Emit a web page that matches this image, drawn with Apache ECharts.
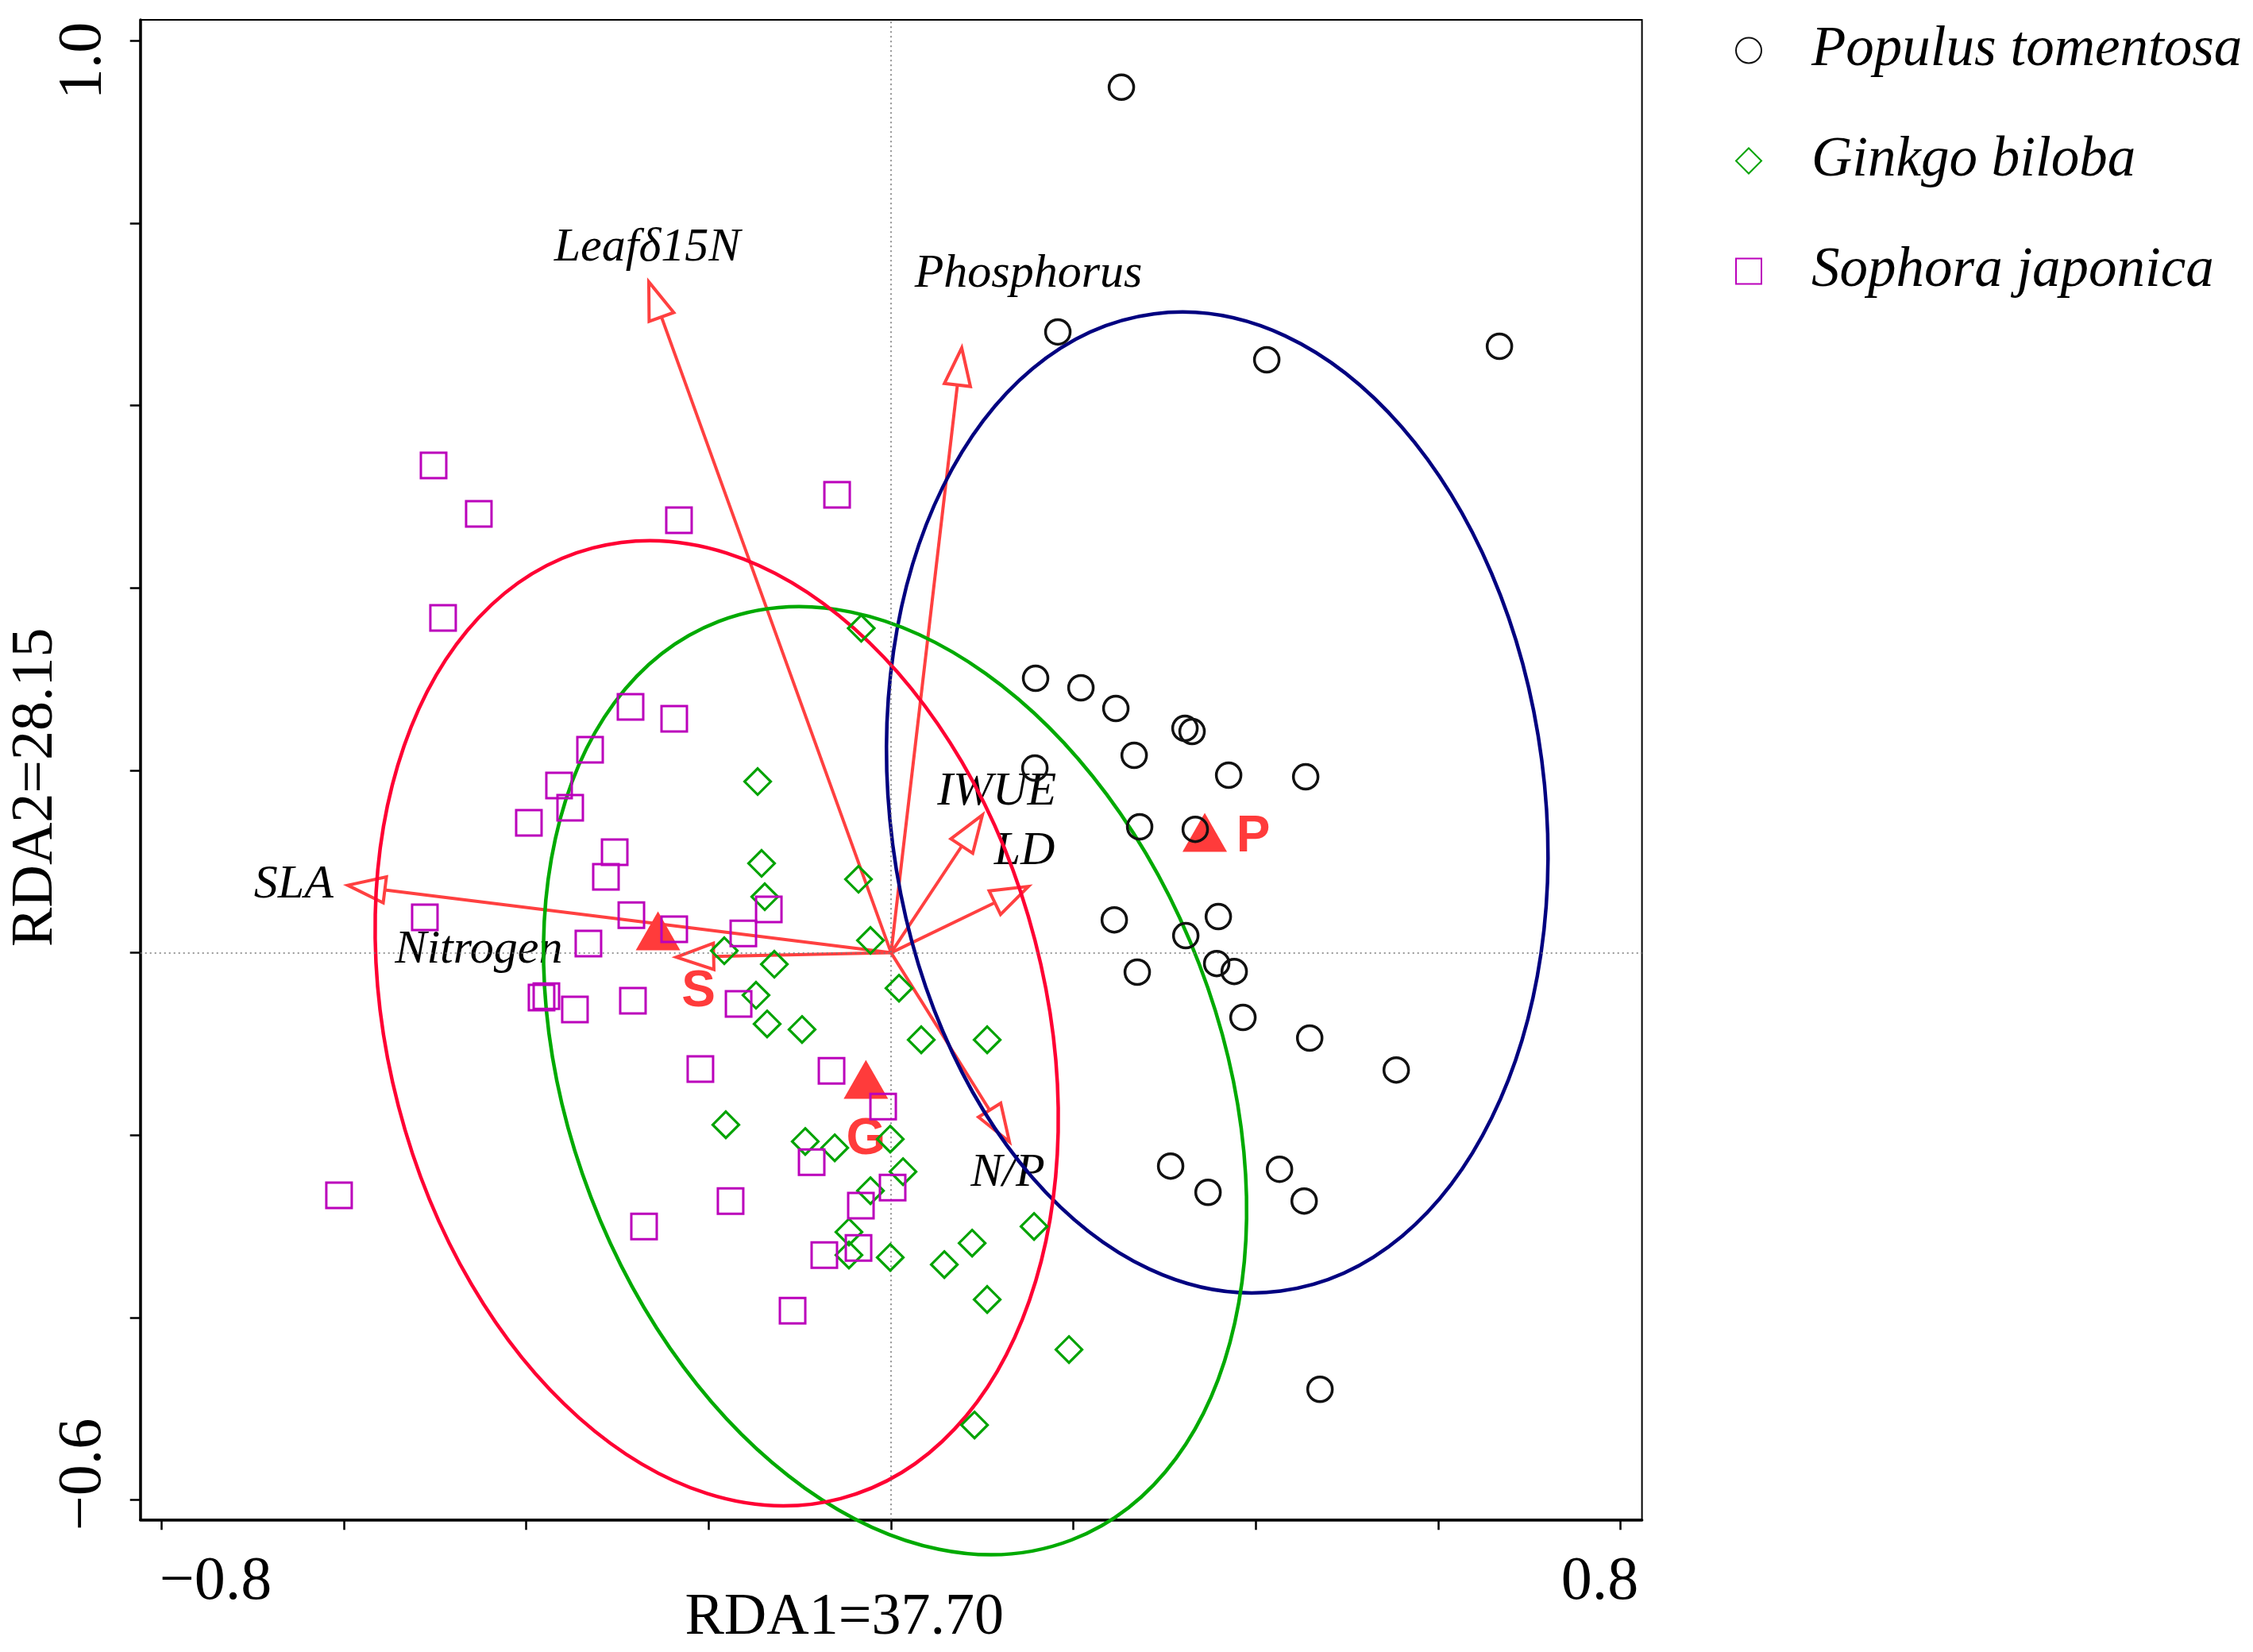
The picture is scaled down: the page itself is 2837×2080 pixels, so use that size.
<!DOCTYPE html>
<html>
<head>
<meta charset="utf-8">
<script src="https://cdn.jsdelivr.net/npm/echarts@6/dist/echarts.min.js"></script>
<style>
html,body{margin:0;padding:0;background:#fff;}
#chart{width:2837px;height:2080px;}
</style>
</head>
<body>
<div id="chart"></div>
<script>
// ---------------- data ----------------
const seriesNames = ['Populus tomentosa', 'Ginkgo biloba', 'Sophora japonica'];

const populus = [
  [0.2526,0.9491],[0.1829,0.6808],[0.4120,0.6503],[0.6672,0.6651],[0.1585,0.3010],
  [0.2082,0.2905],[0.2465,0.2679],[0.3223,0.2461],[0.3301,0.2426],[0.2666,0.2165],
  [0.1577,0.2025],[0.3702,0.1947],[0.4547,0.1929],[0.2726,0.1381],[0.3336,0.1354],
  [0.2448,0.0361],[0.3589,0.0396],[0.3232,0.0187],[0.2700,-0.0213],[0.3571,-0.0118],
  [0.3763,-0.0205],[0.3859,-0.0710],[0.4591,-0.0936],[0.5540,-0.1285],[0.3066,-0.2339],
  [0.3476,-0.2627],[0.4260,-0.2374],[0.4530,-0.2722],[0.4704,-0.4787]
];

const ginkgo = [
  [-0.0327,0.3558],[-0.1463,0.1877],[-0.1420,0.0980],[-0.1385,0.0614],[-0.0357,0.0806],
  [-0.0226,0.0135],[-0.1829,0.0022],[-0.1280,-0.0126],[0.0087,-0.0388],[-0.1481,-0.0466],
  [-0.1359,-0.0780],[-0.0976,-0.0841],[0.0331,-0.0954],[0.1054,-0.0954],[-0.1812,-0.1886],
  [-0.0941,-0.2069],[-0.0618,-0.2139],[-0.0009,-0.2043],[0.0131,-0.2400],[-0.0226,-0.2609],
  [-0.0462,-0.3062],[-0.0462,-0.3315],[-0.0009,-0.3341],[0.0584,-0.3419],[0.0889,-0.3184],
  [0.1568,-0.3001],[0.1054,-0.3802],[0.1951,-0.4351],[0.0915,-0.5179]
];

const sophora = [
  [-0.5017,0.5344],[-0.4521,0.4813],[-0.2326,0.4743],[-0.0592,0.5022],[-0.4913,0.3672],
  [-0.2857,0.2696],[-0.2378,0.2565],[-0.3301,0.2225],[-0.3641,0.1834],[-0.3519,0.1590],
  [-0.3972,0.1424],[-0.3031,0.1102],[-0.3127,0.0832],[-0.5113,0.0388],[-0.2848,0.0413],
  [-0.2378,0.0257],[-0.3319,0.0100],[-0.1620,0.0213],[-0.1341,0.0475],[-0.3833,-0.0492],
  [-0.3780,-0.0475],[-0.3467,-0.0623],[-0.2831,-0.0527],[-0.1672,-0.0562],[-0.2091,-0.1276],
  [-0.0653,-0.1294],[-0.0087,-0.1686],[-0.0871,-0.2296],[0.0017,-0.2574],[-0.0331,-0.2774],
  [-0.0357,-0.3236],[-0.0732,-0.3315],[-0.1080,-0.3925],[-0.6054,-0.2661],[-0.1760,-0.2722],
  [-0.2709,-0.3001]
];

// group centroids (S = Sophora, G = Ginkgo, P = Populus)
const centroidNames = ['S', 'G', 'P'];
const centroids = [[-0.2556,0.0240],[-0.0276,-0.1388],[0.3440,0.1320]];

// environmental vectors
const arrowNames = ['Leaf\u03b415N', 'Phosphorus', 'SLA', 'Nitrogen', 'IWUE', 'LD', 'N/P'];
const arrowTips = [[-0.2657,0.7357],[0.0775,0.6633],[-0.5958,0.0740],[-0.2355,-0.0048],
                   [0.1002,0.1511],[0.1507,0.0727],[0.1298,-0.2073]];
const arrowLabelAt = [[-0.2674,0.7731],[0.1507,0.7443],[-0.6551,0.0745],[-0.4521,0.0030],
                      [0.1159,0.1764],[0.1463,0.1111],[0.1280,-0.2417]];

// confidence ellipses: [centerX, centerY, semiMajor, semiMinor, angleDeg]  (Populus, Ginkgo, Sophora)
const ellipses = [
  [0.3577, 0.1648, 0.5403, 0.3589, -82.6],
  [0.0044, -0.1403, 0.5395, 0.3572, -69.0],
  [-0.1912, -0.0773, 0.5386, 0.3607, -75.4]
];

const xTicks = [-0.8,-0.6,-0.4,-0.2,0,0.2,0.4,0.6,0.8];
const yTicks = [-0.6,-0.4,-0.2,0,0.2,0.4,0.6,0.8,1.0];
const xTickLabels = [-0.8, 0.8];
const yTickLabels = [-0.6, 1.0];

// ---------------- styles ----------------
const SERIF = 'Liberation Serif';
const colPop = '#111111', colGin = '#00A300', colSop = '#BB00BB';
const ellipseColors = ['#000080', '#00AA00', '#FF0033'];
const arrowColor = '#FF4040';

function fmtNum(v){ return (v < 0 ? '\u2212' : '') + Math.abs(v).toFixed(1); }

const chart = echarts.init(document.getElementById('chart'), null, {renderer:'canvas', devicePixelRatio:1});

const option = {
  animation: false,
  backgroundColor: '#fff',
  grid: {left:176.7, top:25, width:1890.9, height:1888.3, show:true, borderColor:'#000', borderWidth:2,
         outerBoundsMode:'none', containLabel:false},
  legend: {
    orient:'vertical', left:2180, top:23, itemWidth:32, itemHeight:32, itemGap:68,
    selectedMode:false, symbolKeepAspect:true,
    data: seriesNames,
    textStyle:{fontSize:71, fontFamily:SERIF, fontStyle:'italic', color:'#000', padding:[0,0,0,58]}
  },
  xAxis: {
    type:'value', min:-0.8233, max:0.8235,
    splitLine:{show:false},
    axisLine:{show:true, onZero:false, lineStyle:{color:'#000', width:3.5}},
    axisTick:{show:true, customValues:xTicks, length:13, inside:false, lineStyle:{color:'#000', width:2.5}},
    axisLabel:{show:true, customValues:xTickLabels, margin:40, color:'#000',
      formatter: v => v < 0 ? '{l|' + fmtNum(v) + '}' : '{r|' + fmtNum(v) + '}',
      rich:{
        l:{fontSize:78, fontFamily:SERIF, color:'#000', padding:[0,0,0,136]},
        r:{fontSize:78, fontFamily:SERIF, color:'#000', padding:[0,52,0,0]}
      }},
    name:'RDA1=37.70', nameLocation:'middle', nameGap:87, nameMoveOverlap:false,
    nameTextStyle:{fontSize:74, fontFamily:SERIF, color:'#000', padding:[0,118,0,0]}
  },
  yAxis: {
    type:'value', min:-0.6216, max:1.0230,
    splitLine:{show:false},
    axisLine:{show:true, onZero:false, lineStyle:{color:'#000', width:3.5}},
    axisTick:{show:true, customValues:yTicks, length:13, inside:false, lineStyle:{color:'#000', width:2.5}},
    axisLabel:{show:true, customValues:yTickLabels, rotate:90, margin:32, color:'#000',
      formatter: v => v < 0 ? '{l|' + fmtNum(v) + '}' : '{r|' + fmtNum(v) + '}',
      rich:{
        l:{fontSize:78, fontFamily:SERIF, color:'#000', padding:[0,0,0,64]},
        r:{fontSize:78, fontFamily:SERIF, color:'#000', padding:[0,50,0,0]}
      }},
    name:'RDA2=28.15', nameLocation:'middle', nameGap:94, nameMoveOverlap:false,
    nameTextStyle:{fontSize:74, fontFamily:SERIF, color:'#000', padding:[0,44,0,0]}
  },
  series: [
    // environmental arrows
    {
      type:'custom', name:'arrows', silent:true, z:2,
      data: arrowTips.map((p,i) => [p[0], p[1], arrowLabelAt[i][0], arrowLabelAt[i][1]]),
      encode:{x:0, y:1},
      renderItem: function(params, api){
        const o = api.coord([0,0]);
        const t = api.coord([api.value(0), api.value(1)]);
        const lp = api.coord([api.value(2), api.value(3)]);
        const dx = t[0]-o[0], dy = t[1]-o[1];
        const len = Math.sqrt(dx*dx+dy*dy);
        const ux = dx/len, uy = dy/len, nx = -uy, ny = ux;
        const L = 47, hw = 16.5;
        const bx = t[0]-L*ux, by = t[1]-L*uy;
        return {type:'group', children:[
          {type:'line', shape:{x1:o[0], y1:o[1], x2:bx, y2:by}, style:{stroke:arrowColor, lineWidth:4}},
          {type:'polygon', shape:{points:[[t[0],t[1]],[bx+hw*nx, by+hw*ny],[bx-hw*nx, by-hw*ny]]},
           style:{fill:'none', stroke:arrowColor, lineWidth:4, lineJoin:'miter'}},
          {type:'text', x:lp[0], y:lp[1], style:{text:arrowNames[params.dataIndex], fontSize:60,
            fontFamily:SERIF, fontStyle:'italic', fill:'#000', align:'center', verticalAlign:'middle'}}
        ]};
      }
    },
    // ellipses
    {
      type:'custom', name:'ellipses', silent:true, z:3,
      data: ellipses, encode:{x:0, y:1},
      renderItem: function(params, api){
        const c = api.coord([api.value(0), api.value(1)]);
        const s = api.size([api.value(2), api.value(3)]);
        return {type:'ellipse', x:c[0], y:c[1], rotation: api.value(4)*Math.PI/180,
          shape:{cx:0, cy:0, rx:Math.abs(s[0]), ry:Math.abs(s[1])},
          style:{fill:'none', stroke:ellipseColors[params.dataIndex], lineWidth:4.5}};
      }
    },
    // centroids
    {
      type:'scatter', name:'centroids', silent:true, z:4,
      symbol:'triangle', symbolSize:[56,49],
      itemStyle:{color:'#FF3B3B', opacity:1},
      data: centroids.map((p,i) => ({value:p, name:centroidNames[i],
        label:{offset: [[51,77],[0,76],[61,6]][i]}})),
      label:{show:true, position:'inside', formatter:'{b}', color:'#FF3B3B', fontSize:64,
             fontWeight:'bold', fontFamily:'Liberation Sans'}
    },
    {
      type:'scatter', name:seriesNames[0], z:5, silent:true,
      symbol:'circle', symbolSize:31,
      itemStyle:{color:'rgba(0,0,0,0)', borderColor:colPop, borderWidth:3.5, opacity:1},
      data: populus,
      markLine:{silent:true, symbol:'none', label:{show:false}, animation:false,
        lineStyle:{type:[2,4], color:'#777', width:1.6, opacity:1},
        data:[{xAxis:0},{yAxis:0}]}
    },
    {
      type:'scatter', name:seriesNames[1], z:5, silent:true,
      symbol:'diamond', symbolSize:33,
      itemStyle:{color:'rgba(0,0,0,0)', borderColor:colGin, borderWidth:3.2, opacity:1},
      data: ginkgo
    },
    {
      type:'scatter', name:seriesNames[2], z:5, silent:true,
      symbol:'rect', symbolSize:32,
      itemStyle:{color:'rgba(0,0,0,0)', borderColor:colSop, borderWidth:3, opacity:1},
      data: sophora
    }
  ]
};
chart.setOption(option);
</script>
</body>
</html>
